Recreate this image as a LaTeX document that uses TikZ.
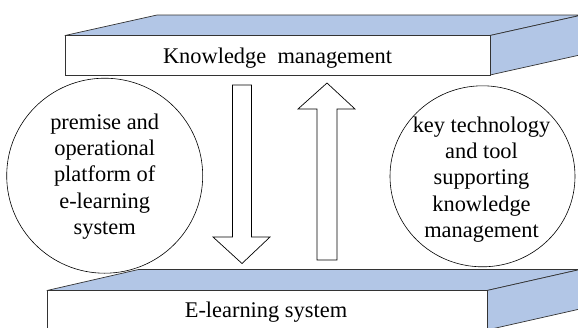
\documentclass[tikz,border=0pt]{standalone}
\usepackage{fontspec}
\setmainfont{Liberation Serif}
\usetikzlibrary{shapes.geometric}
\definecolor{facefill}{RGB}{178,198,230}
\tikzset{
  face/.style={draw=black!80, line width=0.7pt, fill=facefill, line join=round},
  front/.style={draw=black!80, line width=0.7pt, fill=white},
  bubble/.style={draw, ellipse, line width=0.6pt, inner sep=0pt},
  bubbletext/.style={align=center, inner sep=0pt,
     font=\fontsize{22.4}{26.3}\selectfont},
  label/.style={font=\fontsize{22.4}{26}\selectfont, inner sep=0pt},
  fatarrow/.style={draw, line width=0.7pt, fill=white, line join=miter}
}
\begin{document}
\begin{tikzpicture}[x=1pt,y=-1pt]
\useasboundingbox (0,0) rectangle (578,327);
\clip (0,0) rectangle (578,327);
\fill[white] (0,0) rectangle (578,327);
% top box
\draw[face] (65,35.5) -- (157,15) -- (582,15) -- (490,35.5) -- cycle;
\draw[face] (490,35.5) -- (582,15) -- (582,54.5) -- (490,75) -- cycle;
\draw[front] (65,35.5) rectangle (490,75);
\node[label, anchor=base] (km) at (277.5,63.3) {Knowledge\ \ management};
% bottom box
\draw[face] (47,290.5) -- (138.5,269.5) -- (580,269.5) -- (487,290.5) -- cycle;
\draw[face] (487,290.5) -- (580,269.5) -- (580,309) -- (487,330) -- cycle;
\draw[front] (47,290.5) rectangle (487,330);
\node[label, anchor=base] (el) at (266,317.5) {E-learning system};
% circles
\node[bubble, minimum width=196pt, minimum height=195pt] (lc) at (104.7,175.7) {};
\node[bubbletext] (lt) at (104.7,176.5)
  {premise and\\operational\\platform of\\e-learning\\system};
\node[bubble, minimum width=185pt, minimum height=181pt] (rc) at (482.5,176.3) {};
\node[bubbletext] (rt) at (481.5,179.5)
  {key technology\\and tool\\supporting\\knowledge\\management};
% arrows
\coordinate (dtip) at (242,263.5);
\draw[fatarrow] (232.5,85) -- (251.5,85) -- (251.5,237) -- (270,237) -- (dtip)
  -- (213,237) -- (232.5,237) -- cycle;
\coordinate (utip) at (327,83);
\draw[fatarrow] (317,260) -- (337,260) -- (337,109) -- (355,109) -- (utip)
  -- (298,109) -- (317,109) -- cycle;
\end{tikzpicture}
\end{document}
